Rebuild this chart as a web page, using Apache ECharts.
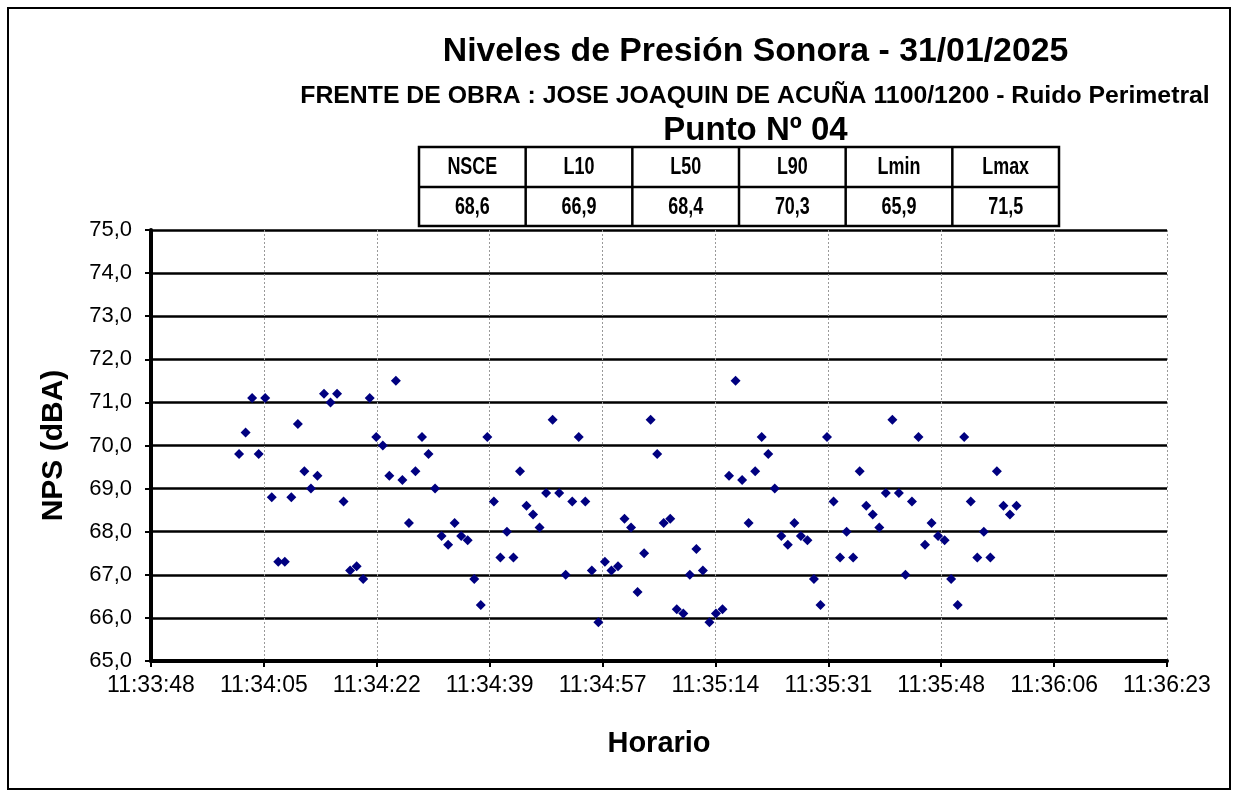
<!DOCTYPE html>
<html>
<head>
<meta charset="utf-8">
<script src="https://cdn.jsdelivr.net/npm/echarts@6/dist/echarts.min.js"></script>
<style>
html,body{margin:0;padding:0;background:#fff;}
#chart{width:1238px;height:796px;}
</style>
</head>
<body>
<div id="chart"></div>
<script>
// ---- data ----
const titleText = 'Niveles de Presión Sonora - 31/01/2025';
const subtitleText = 'FRENTE DE OBRA : JOSE JOAQUIN DE ACUÑA 1100/1200 - Ruido Perimetral';
const pointText = 'Punto Nº 04';
const tableHeaders = ['NSCE', 'L10', 'L50', 'L90', 'Lmin', 'Lmax'];
const tableValues = ['68,6', '66,9', '68,4', '70,3', '65,9', '71,5'];
const xAxisName = 'Horario';
const yAxisName = 'NPS (dBA)';

const times = [
  '11:34:01','11:34:02','11:34:03','11:34:04','11:34:05','11:34:06','11:34:07','11:34:08','11:34:09','11:34:10',
  '11:34:11','11:34:12','11:34:13','11:34:14','11:34:15','11:34:16','11:34:17','11:34:18','11:34:19','11:34:20',
  '11:34:21','11:34:22','11:34:23','11:34:24','11:34:25','11:34:26','11:34:27','11:34:28','11:34:29','11:34:30',
  '11:34:31','11:34:32','11:34:33','11:34:34','11:34:35','11:34:36','11:34:37','11:34:38','11:34:39','11:34:40',
  '11:34:41','11:34:42','11:34:43','11:34:44','11:34:45','11:34:46','11:34:47','11:34:48','11:34:49','11:34:50',
  '11:34:51','11:34:52','11:34:53','11:34:54','11:34:55','11:34:56','11:34:57','11:34:58','11:34:59','11:35:00',
  '11:35:01','11:35:02','11:35:03','11:35:04','11:35:05','11:35:06','11:35:07','11:35:08','11:35:09','11:35:10',
  '11:35:11','11:35:12','11:35:13','11:35:14','11:35:15','11:35:16','11:35:17','11:35:18','11:35:19','11:35:20',
  '11:35:21','11:35:22','11:35:23','11:35:24','11:35:25','11:35:26','11:35:27','11:35:28','11:35:29','11:35:30',
  '11:35:31','11:35:32','11:35:33','11:35:34','11:35:35','11:35:36','11:35:37','11:35:38','11:35:39','11:35:40',
  '11:35:41','11:35:42','11:35:43','11:35:44','11:35:45','11:35:46','11:35:47','11:35:48','11:35:49','11:35:50',
  '11:35:51','11:35:52','11:35:53','11:35:54','11:35:55','11:35:56','11:35:57','11:35:58','11:35:59','11:36:00'
];

const levels = [
  69.8, 70.3, 71.1, 69.8, 71.1, 68.8, 67.3, 67.3, 68.8, 70.5,
  69.4, 69.0, 69.3, 71.2, 71.0, 71.2, 68.7, 67.1, 67.2, 66.9,
  71.1, 70.2, 70.0, 69.3, 71.5, 69.2, 68.2, 69.4, 70.2, 69.8,
  69.0, 67.9, 67.7, 68.2, 67.9, 67.8, 66.9, 66.3, 70.2, 68.7,
  67.4, 68.0, 67.4, 69.4, 68.6, 68.4, 68.1, 68.9, 70.6, 68.9,
  67.0, 68.7, 70.2, 68.7, 67.1, 65.9, 67.3, 67.1, 67.2, 68.3,
  68.1, 66.6, 67.5, 70.6, 69.8, 68.2, 68.3, 66.2, 66.1, 67.0,
  67.6, 67.1, 65.9, 66.1, 66.2, 69.3, 71.5, 69.2, 68.2, 69.4,
  70.2, 69.8, 69.0, 67.9, 67.7, 68.2, 67.9, 67.8, 66.9, 66.3,
  70.2, 68.7, 67.4, 68.0, 67.4, 69.4, 68.6, 68.4, 68.1, 68.9,
  70.6, 68.9, 67.0, 68.7, 70.2, 67.7, 68.2, 67.9, 67.8, 66.9,
  66.3, 70.2, 68.7, 67.4, 68.0, 67.4, 69.4, 68.6, 68.4, 68.6
];

// x axis (seconds of day): Excel-like ticks every 0.0002 day = 17.28 s
const xMin = 41627.52;   // 11:33:48 (rounded)
const xMax = 41783.04;   // 11:36:23 (rounded)
const xStep = 17.28;
const yMin = 65, yMax = 75, yStep = 1;

// ---- helpers ----
function toSec(t) { const p = t.split(':').map(Number); return p[0] * 3600 + p[1] * 60 + p[2]; }
function fmtTime(v) {
  const r = Math.round(v);
  const h = Math.floor(r / 3600), m = Math.floor((r % 3600) / 60), s = r % 60;
  const pad = n => (n < 10 ? '0' : '') + n;
  return h + ':' + pad(m) + ':' + pad(s);
}
const points = times.map((t, i) => [toSec(t), levels[i]]);

// ---- table graphic ----
const tblLeft = 419, tblRight = 1059, tblTop = 147, tblMid = 187, tblBottom = 226;
const colW = (tblRight - tblLeft) / tableHeaders.length;
const lineStyle = { stroke: '#000', lineWidth: 2.5 };
const graphics = [];
graphics.push({ type: 'rect', shape: { x: 8, y: 8, width: 1222, height: 781 }, style: { fill: 'none', stroke: '#000', lineWidth: 2 }, z: 0 });
graphics.push({ type: 'text', x: 755.5, y: 52, style: { text: titleText, font: 'bold 33.8px "Liberation Sans", Arial', fill: '#000', textAlign: 'center', textVerticalAlign: 'middle' } });
graphics.push({ type: 'text', x: 755, y: 96, style: { text: subtitleText, font: 'bold 24.8px "Liberation Sans", Arial', fill: '#000', textAlign: 'center', textVerticalAlign: 'middle' } });
graphics.push({ type: 'text', x: 755.5, y: 131, style: { text: pointText, font: 'bold 33px "Liberation Sans", Arial', fill: '#000', textAlign: 'center', textVerticalAlign: 'middle' } });
graphics.push({ type: 'rect', shape: { x: tblLeft, y: tblTop, width: tblRight - tblLeft, height: tblBottom - tblTop }, style: { fill: '#fff', stroke: '#000', lineWidth: 2.5 }, z: 10 });
graphics.push({ type: 'line', shape: { x1: tblLeft, y1: tblMid, x2: tblRight, y2: tblMid }, style: lineStyle, z: 11 });
for (let i = 1; i < tableHeaders.length; i++) {
  const x = tblLeft + i * colW;
  graphics.push({ type: 'line', shape: { x1: x, y1: tblTop, x2: x, y2: tblBottom }, style: lineStyle, z: 11 });
}
tableHeaders.forEach((h, i) => {
  const cx = tblLeft + (i + 0.5) * colW;
  graphics.push({ type: 'text', x: cx, y: (tblTop + tblMid) / 2 + 1, scaleX: 0.78, z: 12,
    style: { text: h, font: 'bold 23px "Liberation Sans", Arial', fill: '#000', textAlign: 'center', textVerticalAlign: 'middle' } });
  graphics.push({ type: 'text', x: cx, y: (tblMid + tblBottom) / 2 + 1, scaleX: 0.78, z: 12,
    style: { text: tableValues[i], font: 'bold 23px "Liberation Sans", Arial', fill: '#000', textAlign: 'center', textVerticalAlign: 'middle' } });
});

const chart = echarts.init(document.getElementById('chart'), null, { renderer: 'canvas' });
chart.setOption({
  backgroundColor: '#fff',
  animation: false,
  graphic: graphics,
  grid: { left: 151, right: 71, top: 230, bottom: 135, containLabel: false, outerBoundsMode: 'none' },
  xAxis: {
    type: 'value', min: xMin, max: xMax, interval: xStep,
    name: xAxisName, nameLocation: 'middle', nameGap: 68,
    nameTextStyle: { fontFamily: '"Liberation Sans", Arial', fontWeight: 'bold', fontSize: 29, color: '#000' },
    axisLine: { show: true, onZero: false, lineStyle: { color: '#000', width: 4 } },
    axisTick: { show: true, inside: false, length: 6, lineStyle: { color: '#000', width: 2 } },
    axisLabel: { show: true, margin: 13, fontFamily: '"Liberation Sans", Arial', fontSize: 23, color: '#000',
      formatter: fmtTime, showMinLabel: true, showMaxLabel: true, hideOverlap: false },
    splitLine: { show: true, lineStyle: { color: '#999', width: 1, type: [2, 2] } }
  },
  yAxis: {
    type: 'value', min: yMin, max: yMax, interval: yStep,
    name: yAxisName, nameLocation: 'middle', nameGap: 82, nameRotate: 90,
    nameTextStyle: { fontFamily: '"Liberation Sans", Arial', fontWeight: 'bold', fontSize: 30, color: '#000' },
    axisLine: { show: true, onZero: false, lineStyle: { color: '#000', width: 4 } },
    axisTick: { show: true, inside: false, length: 6, lineStyle: { color: '#000', width: 2 } },
    axisLabel: { show: true, margin: 19, fontFamily: '"Liberation Sans", Arial', fontSize: 22, color: '#000',
      formatter: v => v.toFixed(1).replace('.', ','), showMinLabel: true, showMaxLabel: true },
    splitLine: { show: true, lineStyle: { color: '#000', width: 2.5 } }
  },
  series: [{
    type: 'scatter',
    data: points,
    symbol: 'diamond',
    symbolSize: 10,
    itemStyle: { color: '#000080', opacity: 1 },
    z: 5
  }]
});
</script>
</body>
</html>
